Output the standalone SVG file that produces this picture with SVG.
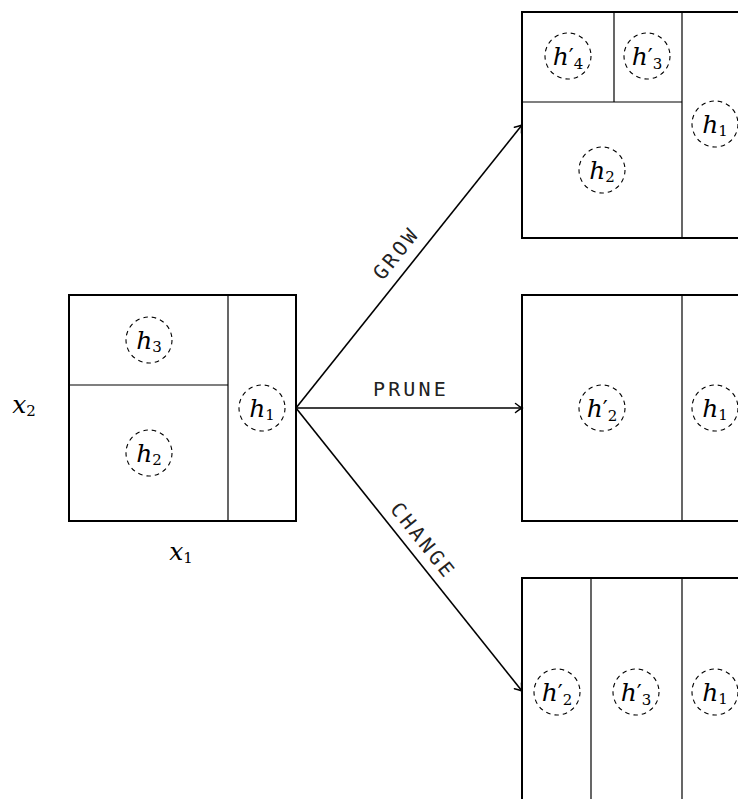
<svg xmlns="http://www.w3.org/2000/svg" width="738" height="799" viewBox="0 0 738 799">
<style>
.box{fill:none;stroke:#000;stroke-width:2}
.div{fill:none;stroke:#000;stroke-width:1.2}
.c{fill:none;stroke:#000;stroke-width:1.1;stroke-dasharray:4.5 4}
.arr{fill:none;stroke:#000;stroke-width:1.6}
.m{font-family:'DejaVu Serif','Liberation Serif',serif;font-style:italic;font-size:25px;fill:#000;text-anchor:middle}
.s{font-style:normal;font-size:15px}
.p{font-style:normal;font-size:22px}
.tt{font-family:'DejaVu Sans Mono','Liberation Mono',monospace;font-size:20px;letter-spacing:3.2px;fill:#222;text-anchor:middle}
</style>
<defs>
<marker id="ah" markerUnits="userSpaceOnUse" markerWidth="14" markerHeight="14" refX="0" refY="0" viewBox="-10 -7 12 14" orient="auto">
<path d="M -6.5 -4.5 Q -2 -1 0 0 Q -2 1 -6.5 4.5" fill="none" stroke="#000" stroke-width="1.5" stroke-linecap="round"/>
</marker>
</defs>
<rect width="738" height="799" fill="#fff"/>

<g id="axes">
<text class="m" x="24" y="413">x<tspan class="s" dy="3">2</tspan></text>
<text class="m" x="181" y="560">x<tspan class="s" dy="3">1</tspan></text>
</g>

<g id="left">
<rect class="box" x="69" y="295" width="227" height="226"/>
<line class="div" x1="228" y1="295" x2="228" y2="521"/>
<line class="div" x1="69" y1="385" x2="228" y2="385"/>
<circle class="c" cx="149" cy="340" r="23"/>
<text class="m" x="149" y="349">h<tspan class="s" dy="3">3</tspan></text>
<circle class="c" cx="149" cy="453" r="23"/>
<text class="m" x="149" y="462">h<tspan class="s" dy="3">2</tspan></text>
<circle class="c" cx="262" cy="408" r="23"/>
<text class="m" x="262" y="417">h<tspan class="s" dy="3">1</tspan></text>
</g>

<g id="grow-box">
<rect class="box" x="522" y="12" width="227" height="226"/>
<line class="div" x1="682" y1="12" x2="682" y2="238"/>
<line class="div" x1="522" y1="102" x2="682" y2="102"/>
<line class="div" x1="614" y1="12" x2="614" y2="102"/>
<circle class="c" cx="568" cy="56" r="23"/>
<text class="m" x="568" y="65">h<tspan class="p" dy="-1">′</tspan><tspan class="s" dy="5">4</tspan></text>
<circle class="c" cx="647" cy="56" r="23"/>
<text class="m" x="647" y="65">h<tspan class="p" dy="-1">′</tspan><tspan class="s" dy="5">3</tspan></text>
<circle class="c" cx="602" cy="170" r="23"/>
<text class="m" x="602" y="179">h<tspan class="s" dy="3">2</tspan></text>
<circle class="c" cx="715" cy="124" r="23"/>
<text class="m" x="715" y="133">h<tspan class="s" dy="3">1</tspan></text>
</g>

<g id="prune-box">
<rect class="box" x="522" y="295" width="227" height="226"/>
<line class="div" x1="682" y1="295" x2="682" y2="521"/>
<circle class="c" cx="602" cy="408" r="23"/>
<text class="m" x="602" y="417">h<tspan class="p" dy="-1">′</tspan><tspan class="s" dy="5">2</tspan></text>
<circle class="c" cx="715" cy="408" r="23"/>
<text class="m" x="715" y="417">h<tspan class="s" dy="3">1</tspan></text>
</g>

<g id="change-box">
<rect class="box" x="522" y="578" width="227" height="226"/>
<line class="div" x1="591" y1="578" x2="591" y2="804"/>
<line class="div" x1="682" y1="578" x2="682" y2="804"/>
<circle class="c" cx="557" cy="692" r="23"/>
<text class="m" x="557" y="701">h<tspan class="p" dy="-1">′</tspan><tspan class="s" dy="5">2</tspan></text>
<circle class="c" cx="636" cy="692" r="23"/>
<text class="m" x="636" y="701">h<tspan class="p" dy="-1">′</tspan><tspan class="s" dy="5">3</tspan></text>
<circle class="c" cx="715" cy="692" r="23"/>
<text class="m" x="715" y="701">h<tspan class="s" dy="3">1</tspan></text>
</g>

<g id="connectors">
<line class="arr" x1="296" y1="408" x2="522" y2="125" marker-end="url(#ah)"/>
<line class="arr" x1="296" y1="408" x2="522" y2="408" marker-end="url(#ah)"/>
<line class="arr" x1="296" y1="408" x2="522" y2="691" marker-end="url(#ah)"/>
<text class="tt" transform="translate(396 255) rotate(-51.4)" x="1.6" y="6">GROW</text>
<text class="tt" x="411" y="396">PRUNE</text>
<text class="tt" transform="translate(421.5 540) rotate(51.5)" x="1.6" y="6">CHANGE</text>
</g>
</svg>
